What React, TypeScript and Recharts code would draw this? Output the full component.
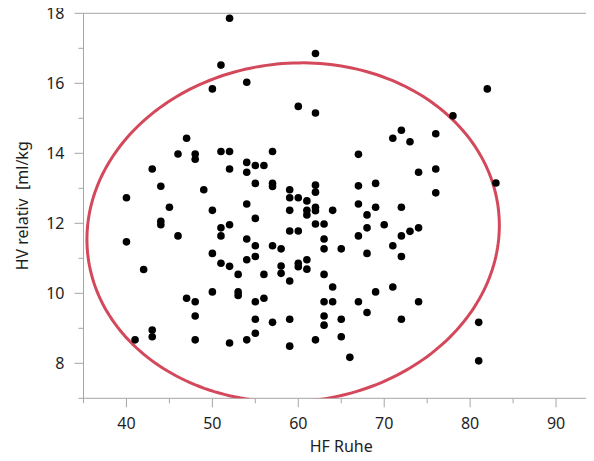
import React from "react";
import { ScatterChart, Scatter, XAxis, YAxis, ReferenceLine } from "recharts";

// HF Ruhe (x) and HV relativ (y) per subject
const hfRuhe = [
  52, 51, 50, 54, 62, 60, 62, 47, 46, 48, 48, 51, 52, 57, 67, 82, 78, 72, 71, 73,
  76, 43, 52, 54, 54, 55, 56, 44, 49, 40, 54, 45, 50, 44, 44, 52, 51, 51, 46, 54,
  40, 50, 54, 51, 52, 42, 53, 55, 57, 57, 59, 62, 62, 67, 69, 59, 60, 61, 67, 69,
  72, 62, 62, 61, 61, 59, 64, 68, 55, 62, 63, 70, 68, 59, 60, 73, 74, 72, 67, 63,
  55, 57, 58, 63, 65, 71, 72, 68, 55, 61, 60, 60, 58, 58, 61, 56, 63, 59, 74, 76,
  76, 83, 47, 48, 50, 53, 53, 48, 43, 43, 41, 48, 52, 54, 55, 56, 64, 63, 64, 67,
  69, 71, 68, 63, 63, 65, 55, 57, 59, 72, 55, 62, 65, 59, 66, 74, 81, 81,
];
const hvRelativ = [
  17.86, 16.52, 15.84, 16.03, 16.85, 15.34, 15.15, 14.43, 13.98, 13.98, 13.83, 14.05, 14.05, 14.05, 13.97, 15.84, 15.07, 14.66, 14.43, 14.33,
  14.56, 13.55, 13.55, 13.74, 13.46, 13.65, 13.65, 13.06, 12.96, 12.73, 12.55, 12.46, 12.37, 12.06, 11.96, 11.96, 11.87, 11.64, 11.64, 11.55,
  11.47, 11.14, 10.96, 10.86, 10.77, 10.68, 10.54, 13.14, 13.14, 13.05, 12.96, 13.09, 12.89, 13.07, 13.14, 12.73, 12.73, 12.64, 12.55, 12.46,
  12.46, 12.46, 12.36, 12.37, 12.24, 12.37, 12.37, 12.24, 12.14, 11.98, 11.98, 11.96, 11.87, 11.78, 11.78, 11.77, 11.87, 11.64, 11.64, 11.55,
  11.36, 11.36, 11.27, 11.27, 11.27, 11.36, 11.05, 11.14, 11.05, 10.96, 10.86, 10.76, 10.78, 10.57, 10.69, 10.54, 10.54, 10.35, 13.46, 13.55,
  12.87, 13.15, 9.86, 9.76, 10.04, 10.04, 9.94, 9.35, 8.95, 8.76, 8.67, 8.67, 8.58, 8.67, 9.76, 9.86, 10.18, 9.76, 9.76, 9.76,
  10.04, 10.18, 9.45, 9.35, 9.09, 9.26, 9.26, 9.17, 9.26, 9.26, 8.86, 8.67, 8.76, 8.49, 8.17, 9.76, 9.17, 8.07,
];

const xTicks = [35, 40, 45, 50, 55, 60, 65, 70, 75, 80, 85, 90, 95];
const xLabelTicks = [40, 50, 60, 70, 80, 90];
const yTicks = [7, 8, 9, 10, 11, 12, 13, 14, 15, 16, 17, 18];
const yLabelTicks = [8, 10, 12, 14, 16, 18];

// density ellipse parameters (data units)
const ellipseCenterX = 59.4;
const ellipseCenterY = 11.74;
const ellipseRadiusX = 24.0;
const ellipseRadiusY = 4.84;
const ellipseTilt = 0.2;
const ellipseSteps = 240;

const xTitle = "HF Ruhe";
const yTitle = "HV relativ  [ml/kg";

const AXIS = "#a6a6a6";
const TEXT = "#1e1e1e";
const RED = "#d4485b";
const FONT = "'Noto Sans', 'Open Sans', sans-serif";
const FS = 16;

const points = hfRuhe.map((x, i) => ({ x, y: hvRelativ[i] }));
const ellipse = Array.from({ length: ellipseSteps + 1 }, (_, i) => {
  const t = (i / ellipseSteps) * Math.PI * 2;
  return {
    x: ellipseCenterX + ellipseRadiusX * Math.cos(t),
    y: ellipseCenterY + ellipseTilt * Math.cos(t) + ellipseRadiusY * Math.sin(t),
  };
});

const XTick = (props: any) => {
  const { x, y, payload } = props;
  const v = payload.value;
  const major = xLabelTicks.includes(v);
  return (
    <g>
      <line x1={x} y1={y} x2={x} y2={y + (major ? 9 : 5)} stroke={AXIS} strokeWidth={1} />
      {major && (
        <text x={x} y={y + 31} textAnchor="middle" fill={TEXT} fontSize={FS} fontFamily={FONT}>
          {v}
        </text>
      )}
    </g>
  );
};

const YTick = (props: any) => {
  const { x, y, payload } = props;
  const v = payload.value;
  const major = yLabelTicks.includes(v);
  return (
    <g>
      <line x1={x - (major ? 9 : 5)} y1={y} x2={x} y2={y} stroke={AXIS} strokeWidth={1} />
      {major && (
        <text x={x - 19} y={y + 5.8} textAnchor="end" fill={TEXT} fontSize={FS} fontFamily={FONT}>
          {v}
        </text>
      )}
    </g>
  );
};

const XTitle = (p: any) => {
  const vb = p.viewBox || {};
  const cx = vb.x + vb.width / 2;
  return (
    <text x={cx} y={452} textAnchor="middle" fill={TEXT} fontSize={FS} fontFamily={FONT}>
      {xTitle}
    </text>
  );
};

const YTitle = (p: any) => {
  const vb = p.viewBox || {};
  const cx = 14;
  const cy = vb.y + vb.height / 2;
  return (
    <text
      x={cx}
      y={cy}
      transform={`rotate(-90, ${cx}, ${cy})`}
      textAnchor="middle"
      dominantBaseline="central"
      fill={TEXT}
      fontSize={FS}
      fontFamily={FONT}
      style={{ whiteSpace: "pre" }}
    >
      {yTitle}
    </text>
  );
};

const Dot = (p: any) => <circle cx={p.cx} cy={p.cy} r={3.8} fill="#000" />;
const NoDot = () => <g />;

export default function App() {
  return (
    <div style={{ width: 586, height: 461, marginTop: -8, overflow: "hidden", fontFamily: FONT }}>
      <ScatterChart
        width={600}
        height={461}
        margin={{ top: 13.3, right: 9, bottom: 0, left: 0 }}
      >
        <XAxis
          type="number"
          dataKey="x"
          domain={[35, 95]}
          ticks={xTicks}
          interval={0}
          allowDataOverflow
          height={62.7}
          tickSize={0}
          tickMargin={0}
          tickLine={false}
          axisLine={{ stroke: AXIS }}
          tick={<XTick />}
          label={{ content: <XTitle /> }}
        />
        <YAxis
          type="number"
          dataKey="y"
          domain={[7, 18]}
          ticks={yTicks}
          interval={0}
          allowDataOverflow
          width={75.5}
          tickSize={0}
          tickMargin={0}
          tickLine={false}
          axisLine={{ stroke: AXIS }}
          tick={<YTick />}
          label={{ content: <YTitle /> }}
        />
        <ReferenceLine y={18} stroke={AXIS} strokeWidth={1} />
        <Scatter
          data={ellipse}
          line={{ stroke: RED, strokeWidth: 3 }}
          lineType="joint"
          shape={<NoDot />}
          isAnimationActive={false}
        />
        <Scatter data={points} shape={<Dot />} fill="#000" isAnimationActive={false} />
      </ScatterChart>
    </div>
  );
}
